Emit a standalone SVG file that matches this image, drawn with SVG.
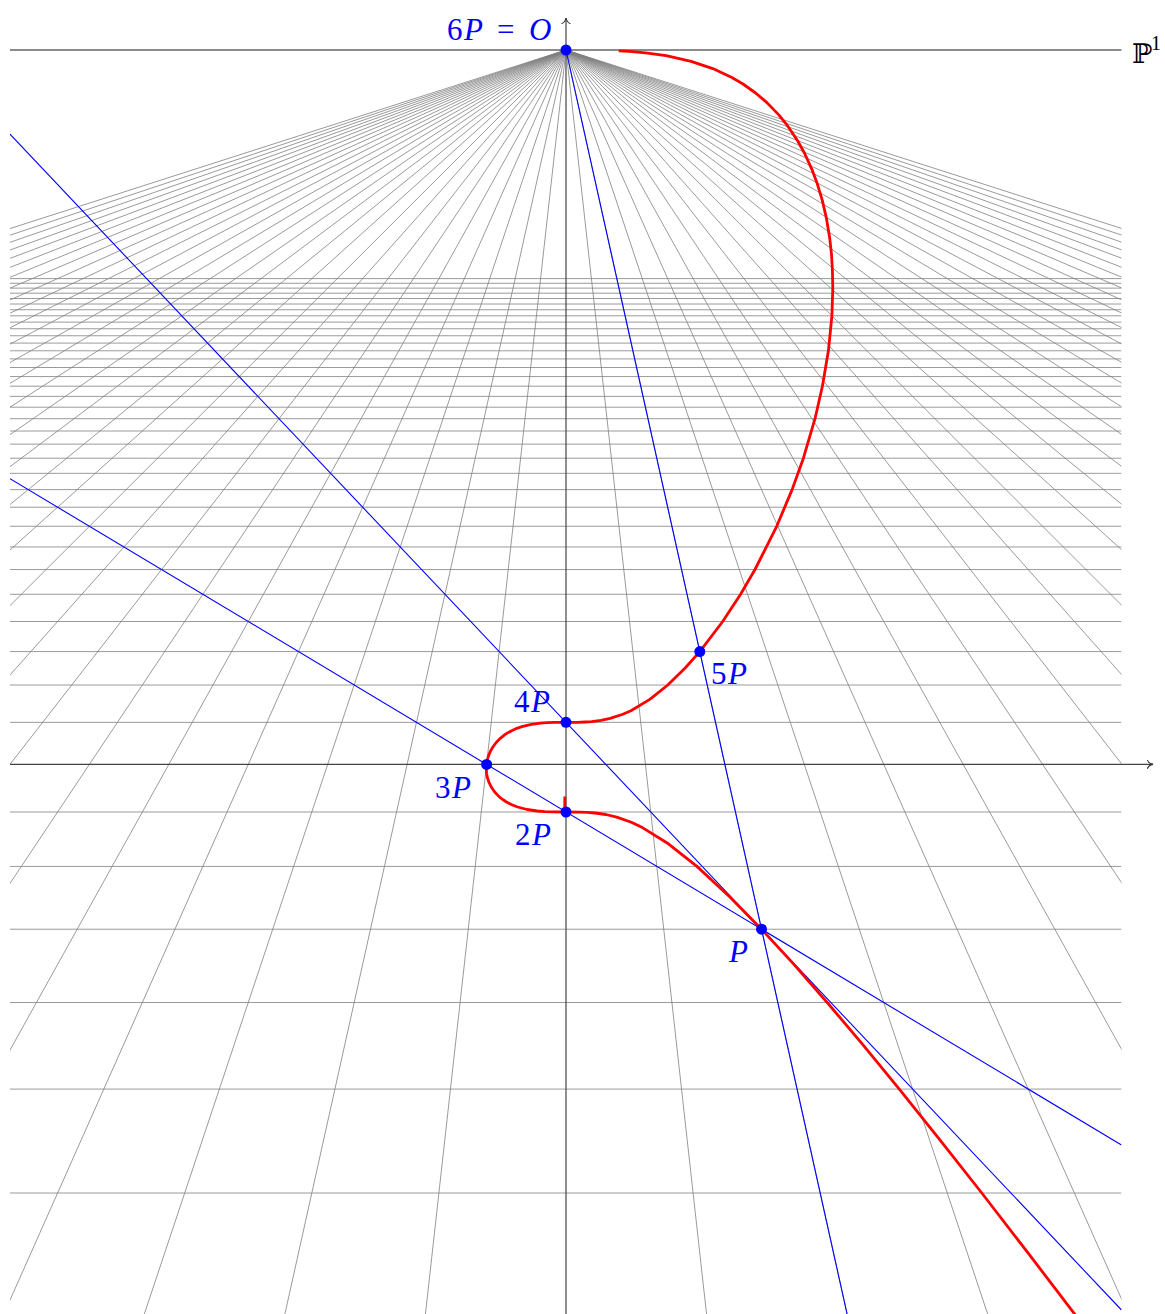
<svg xmlns="http://www.w3.org/2000/svg" width="1165" height="1314" viewBox="0 0 1165 1314">
<defs>
<clipPath id="box"><rect x="10" y="0" width="1111.5" height="1314"/></clipPath>
<marker id="tip" markerUnits="userSpaceOnUse" viewBox="-8 -6 10 12" markerWidth="10" markerHeight="12" refX="0" refY="0" orient="auto" overflow="visible"><path d="M-5.5,-4 C-4.6,-1.6 -1.8,-0.4 0,0 C-1.8,0.4 -4.6,1.6 -5.5,4" fill="none" stroke="#333" stroke-width="1.1" stroke-linecap="round"/></marker>
</defs>
<style>
.grid{stroke:#808080;stroke-width:0.8;fill:none}
.axis{stroke:#444;stroke-width:1.2;fill:none}
.horizon{stroke:#666;stroke-width:1.3;fill:none}
.curve{stroke:#ff0000;stroke-width:2.8;fill:none;stroke-linejoin:round}
.bl{stroke:#0000ff;stroke-width:1.1;fill:none}
.pt{fill:#0000ff}
.lbl{font-size:31px;fill:#0000ff}
.it{font-style:italic}
</style>
<rect width="1165" height="1314" fill="#ffffff"/>
<g id="grid" clip-path="url(#box)">
<path class="grid" d="M10 1193H1121.5M10 1089.09H1121.5M10 1002.5H1121.5M10 929.23H1121.5M10 866.43H1121.5M10 812H1121.5M10 722.35H1121.5M10 685H1121.5M10 651.58H1121.5M10 621.5H1121.5M10 594.29H1121.5M10 569.55H1121.5M10 546.96H1121.5M10 526.25H1121.5M10 507.2H1121.5M10 489.62H1121.5M10 473.33H1121.5M10 458.21H1121.5M10 444.14H1121.5M10 431H1121.5M10 418.71H1121.5M10 407.19H1121.5M10 396.36H1121.5M10 386.18H1121.5M10 376.57H1121.5M10 367.5H1121.5M10 358.92H1121.5M10 350.79H1121.5M10 343.08H1121.5M10 335.75H1121.5M10 328.78H1121.5M10 322.14H1121.5M10 315.81H1121.5M10 309.77H1121.5M10 304H1121.5M10 298.48H1121.5M10 293.19H1121.5M10 288.13H1121.5M10 283.27H1121.5M10 278.6H1121.5"/>
<path class="grid" d="M566 50L-3369.4 1314M566 50L-3228.85 1314M566 50L-3088.3 1314M566 50L-2947.75 1314M566 50L-2807.2 1314M566 50L-2666.65 1314M566 50L-2526.1 1314M566 50L-2385.55 1314M566 50L-2245 1314M566 50L-2104.45 1314M566 50L-1963.9 1314M566 50L-1823.35 1314M566 50L-1682.8 1314M566 50L-1542.25 1314M566 50L-1401.7 1314M566 50L-1261.15 1314M566 50L-1120.6 1314M566 50L-980.05 1314M566 50L-839.5 1314M566 50L-698.95 1314M566 50L-558.4 1314M566 50L-417.85 1314M566 50L-277.3 1314M566 50L-136.75 1314M566 50L3.8 1314M566 50L144.35 1314M566 50L284.9 1314M566 50L425.45 1314M566 50L706.55 1314M566 50L847.1 1314M566 50L987.65 1314M566 50L1128.2 1314M566 50L1268.75 1314M566 50L1409.3 1314M566 50L1549.85 1314M566 50L1690.4 1314M566 50L1830.95 1314M566 50L1971.5 1314M566 50L2112.05 1314M566 50L2252.6 1314M566 50L2393.15 1314M566 50L2533.7 1314M566 50L2674.25 1314M566 50L2814.8 1314M566 50L2955.35 1314M566 50L3095.9 1314M566 50L3236.45 1314M566 50L3377 1314M566 50L3517.55 1314M566 50L3658.1 1314M566 50L3798.65 1314M566 50L3939.2 1314M566 50L4079.75 1314M566 50L4220.3 1314M566 50L4360.85 1314M566 50L4501.4 1314"/>
</g>
<g id="axes">
<line class="horizon" x1="10" y1="50" x2="1121.5" y2="50"/>
<line class="axis" x1="10" y1="764.4" x2="1153" y2="764.4" marker-end="url(#tip)"/>
<line class="axis" x1="566" y1="1314" x2="566" y2="18" marker-end="url(#tip)"/>
<text x="1132" y="63" font-family="DejaVu Serif, DejaVu Sans, serif" font-size="27" fill="#000000">ℙ</text>
<text x="1151" y="50" font-family="Liberation Serif, serif" font-size="20" fill="#000000">1</text>
</g>
<g id="connectors" clip-path="url(#box)">
<line class="bl" x1="10" y1="134.1" x2="1121.5" y2="1310"/>
<line class="bl" x1="10" y1="478.7" x2="1121.5" y2="1145"/>
<line class="bl" x1="566" y1="50" x2="847.1" y2="1314"/>
</g>
<g id="curve">
<path class="curve" d="M618.7 50.8L629.4 51.4 645.7 52.9 666.1 55.7 691.1 61.3 712.8 68.6 731.9 77.5 743 84 755.6 93 767.2 102.9 778.8 114.9 787.5 125.7 797.6 140.7 804.4 153 811.8 169.1 817 182.9 822.3 200.4 826.4 218.1 829.6 237.4 831.5 254.1 832.4 269.8 832.8 288.1 831.9 315.8 828.4 350.8 822.4 386.2 815 418.7 803.4 458.2 792.1 489.6 776.7 526.3 755 569.5 740.6 594.3 722.7 621.5 699.8 651.6 685.4 667.8 667.8 685 649.8 699.4 630.9 710.7 622.2 714.5 610.1 718.4 600.9 720.4 591.6 721.6 584.9 722 577.9 722.3 566 722.4 554.1 722.4 547.2 722.7 540.5 723.1 531.5 724.3 522.8 726.3 516.8 728.3 512.2 730.4 508.4 732.4 505.2 734.4 500 738.6 496 742.7 492.9 747 490.4 751.2 488.6 755.6 487.3 759.9 486.6 764.4 486.3 768.9 486.6 773.4 487.5 778 489.1 782.7 491.5 787.4 494.9 792.2 499.6 797.1 502.7 799.5 506.5 802 511.3 804.5 517.6 807 527.1 809.5 537.2 811 544.7 811.6 552.6 811.9 566 812 579.4 812.1 587.4 812.4 595.1 813 605.8 814.5 616.7 817.1 631.3 822.3 642.4 827.6 668.4 843.8 696.9 866.4 729.6 896.7 761.5 929.2 793.9 964.4 827.2 1002.5 862.2 1043.9 899.3 1089.1 938.9 1138.6 981.8 1193 1028.2 1253.2 1079.2 1320"/>
<line class="curve" x1="564.8" y1="796.5" x2="564.8" y2="812"/>
</g>
<g id="node-O"><circle class="pt" cx="566" cy="50" r="5.5"/><text class="lbl" font-family="Liberation Serif, serif" y="39.5"><tspan x="447">6</tspan><tspan x="464" class="it">P</tspan><tspan x="497">=</tspan><tspan x="529" class="it">O</tspan></text></g>
<g id="node-5P"><circle class="pt" cx="699.8" cy="651.6" r="5.5"/><text class="lbl" font-family="Liberation Serif, serif" y="684"><tspan x="711">5</tspan><tspan x="728" class="it">P</tspan></text></g>
<g id="node-4P"><circle class="pt" cx="566" cy="722.35" r="5.5"/><text class="lbl" font-family="Liberation Serif, serif" y="712"><tspan x="514">4</tspan><tspan x="531" class="it">P</tspan></text></g>
<g id="node-3P"><circle class="pt" cx="486.6" cy="764.4" r="5.5"/><text class="lbl" font-family="Liberation Serif, serif" y="798"><tspan x="435">3</tspan><tspan x="452" class="it">P</tspan></text></g>
<g id="node-2P"><circle class="pt" cx="566" cy="812" r="5.5"/><text class="lbl" font-family="Liberation Serif, serif" y="845"><tspan x="515">2</tspan><tspan x="532" class="it">P</tspan></text></g>
<g id="node-P"><circle class="pt" cx="761.5" cy="929.2" r="5.5"/><text class="lbl" font-family="Liberation Serif, serif" y="961.5"><tspan x="729" class="it">P</tspan></text></g>
</svg>
